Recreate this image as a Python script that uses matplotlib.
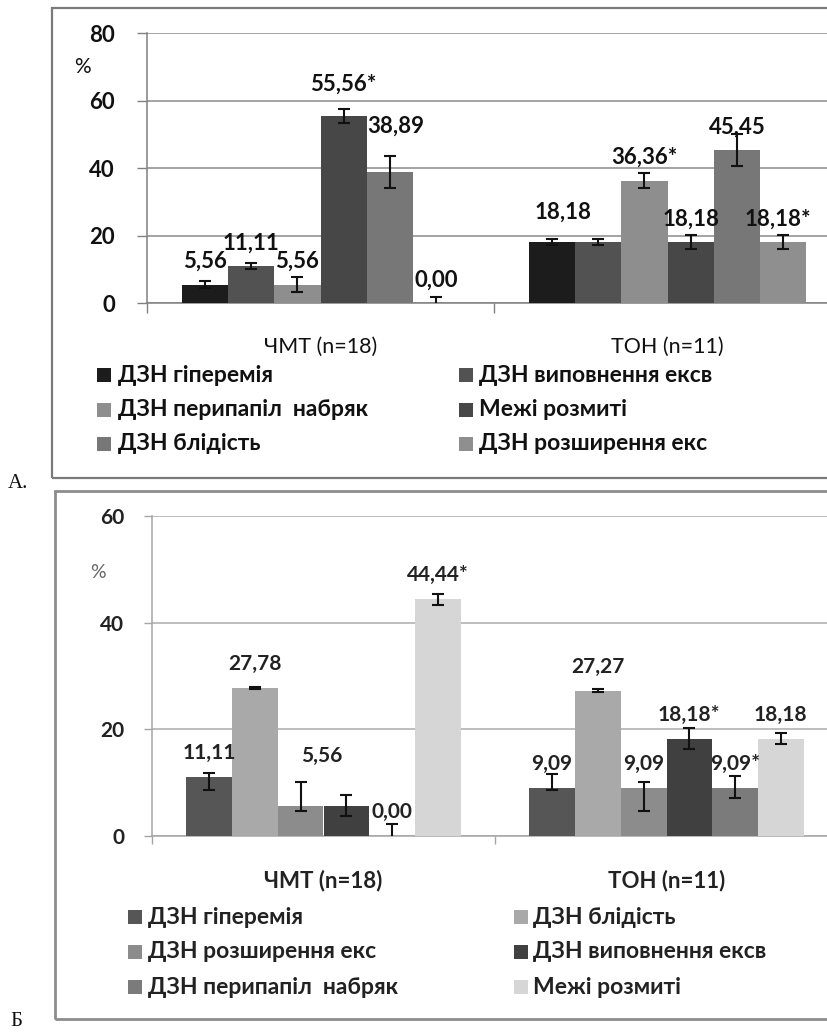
import matplotlib
matplotlib.use("Agg")
import matplotlib.pyplot as plt
import matplotlib.transforms as mtransforms
from matplotlib.patches import Rectangle
import numpy as np

# ---------------- data ----------------
categories = ["ЧМТ (n=18)", "ТОН (n=11)"]

# Panel A
a_series = ["ДЗН гіперемія", "ДЗН виповнення ексв", "ДЗН перипапіл  набряк",
            "Межі розмиті", "ДЗН блідість", "ДЗН розширення екс"]
a_values = [[5.56, 11.11, 5.56, 55.56, 38.89, 0.00],
            [18.18, 18.18, 36.36, 18.18, 45.45, 18.18]]
a_err = [[1.1, 0.8, 2.2, 2.1, 4.7, 2.0],
         [1.0, 1.0, 2.2, 2.1, 4.8, 2.1]]
a_stars = [["", "", "", "*", "", ""],
           ["", "", "*", "", "", "*"]]
a_show = [[1, 1, 1, 1, 1, 1],
          [1, 0, 1, 1, 1, 1]]
a_colors = ["#1c1c1c", "#525252", "#8e8e8e", "#474747", "#777777", "#8f8f8f"]

# Panel Б
b_series = ["ДЗН гіперемія", "ДЗН блідість", "ДЗН розширення екс",
            "ДЗН виповнення ексв", "ДЗН перипапіл  набряк", "Межі розмиті"]
b_values = [[11.11, 27.78, 5.56, 5.56, 0.00, 44.44],
            [9.09, 27.27, 9.09, 18.18, 9.09, 18.18]]
b_err_lo = [[2.5, 0.2, 0.8, 1.75, 2.2, 1.05],
            [0.45, 0.2, 4.4, 1.9, 2.05, 0.9]]
b_err_hi = [[0.75, 0.2, 4.5, 2.1, 2.2, 0.95],
            [2.5, 0.2, 0.95, 2.05, 2.2, 1.1]]
b_stars = [["", "", "", "", "", "*"],
           ["", "", "", "*", "*", ""]]
b_show = [[1, 1, 1, 0, 1, 1],
          [1, 1, 1, 1, 1, 1]]
b_colors = ["#565656", "#a9a9a9", "#8c8c8c", "#404040", "#7b7b7b", "#d6d6d6"]

a_yticks = [0, 20, 40, 60, 80]
b_yticks = [0, 20, 40, 60]

# ---------------- figure ----------------
W, H = 827, 1032
fig = plt.figure(figsize=(W / 100, H / 100), dpi=100)
FONT = ["Lato", "DejaVu Sans"]
plt.rcParams["font.family"] = FONT


def fx(px):
    return px / W


def fy(py):
    return 1 - py / H


def fmt(v, s):
    return f"{v:.2f}".replace(".", ",") + s


def make_axes(left, right, top, bottom):
    return fig.add_axes([fx(left), fy(bottom), (right - left) / W, (bottom - top) / H])


def draw_panel(ax, values, err_lo, err_hi, colors, stars, show, yticks, ymax,
               grid_color, spine_color, tick_len, tick_pad, tick_fs, tick_color,
               lab_fs, lab_weight, lab_color, lab_dy, nudges):
    n = len(colors)
    w = 1.0 / (n + 1.5)
    x0 = np.arange(len(categories))
    handles = []
    for j in range(n):
        xs = x0 + 0.75 * w + (j + 0.5) * w
        vals = [values[i][j] for i in range(len(categories))]
        lo = [err_lo[i][j] for i in range(len(categories))]
        hi = [err_hi[i][j] for i in range(len(categories))]
        h = ax.bar(xs, vals, width=w, color=colors[j], edgecolor="none", zorder=3)
        handles.append(h)
        ax.errorbar(xs, vals, yerr=[lo, hi], fmt="none", ecolor="#111111",
                    elinewidth=1.5, capsize=4.2, capthick=1.5, zorder=4)
        for i in range(len(categories)):
            if not show[i][j]:
                continue
            dx, dy = nudges.get((i, j), (0, 0))
            ax.annotate(fmt(vals[i], stars[i][j]), xy=(xs[i], vals[i]),
                        xytext=(dx, lab_dy + dy), textcoords="offset pixels",
                        ha="center", va="center", fontsize=lab_fs,
                        fontweight=lab_weight, color=lab_color, zorder=5,
                        annotation_clip=False)
    ax.set_xlim(0, len(categories))
    ax.set_ylim(0, ymax)
    ax.set_yticks(yticks)
    ax.set_yticklabels([str(t) for t in yticks], fontsize=tick_fs,
                       fontweight="bold", color=tick_color)
    ax.tick_params(axis="y", length=tick_len, color=spine_color, pad=tick_pad, width=1)
    ax.set_xticks(np.arange(len(categories) + 1))
    ax.set_xticklabels([])
    ax.tick_params(axis="x", length=tick_len, color=spine_color, width=1)
    ax.yaxis.grid(True, color=grid_color, linewidth=1.1, zorder=0)
    ax.set_axisbelow(True)
    for s in ["top", "right"]:
        ax.spines[s].set_visible(False)
    for s in ["left", "bottom"]:
        ax.spines[s].set_color(spine_color)
        ax.spines[s].set_linewidth(1.1)
    ax.patch.set_alpha(0)
    return handles


# ---------- Panel A ----------
fig.patches.append(Rectangle((fx(52), fy(478)), (W + 10 - 52) / W, (478 - 8) / H,
                             transform=fig.transFigure, fill=False,
                             edgecolor="#7a7a7a", linewidth=1.6))
axA = make_axes(147, 147 + 2 * 347, 33.3, 303.3)
hA = draw_panel(axA, a_values, a_err, a_err, a_colors, a_stars, a_show, a_yticks, 80,
                "#8a8a8a", "#808080", 7, 16, 16, "#111111",
                16, "bold", "#111111", 23,
                {(0, 3): (0, 9), (0, 4): (6, 23), (1, 0): (11, 7), (1, 5): (-5, 0)})
trA = mtransforms.blended_transform_factory(axA.transData, fig.transFigure)
for i, c in enumerate(categories):
    axA.text(i + 0.5, fy(347), c, transform=trA, ha="center", va="center",
             fontsize=15.5, color="#111111")
fig.text(fx(82), fy(67), "%", ha="center", va="center", fontsize=15, color="#111111")

# legend A (row-wise order, as in the original)
a_rows = [(0, 1), (2, 3), (4, 5)]
for r, pair in enumerate(a_rows):
    yc = [375, 410, 444][r]
    for c, j in enumerate(pair):
        mx = [97, 459][c]
        tx = [118, 479][c]
        fig.patches.append(Rectangle((fx(mx), fy(yc + 7)), 14 / W, 14 / H,
                                     transform=fig.transFigure,
                                     facecolor=a_colors[j], edgecolor="none"))
        fig.text(fx(tx), fy(yc), a_series[j], ha="left", va="center",
                 fontsize=16.5, fontweight="bold", color="#111111")

fig.text(fx(8), fy(484), "А.", ha="left", va="center", fontsize=15,
         family=["Liberation Serif", "DejaVu Serif"], color="#111111")

# ---------- Panel Б ----------
fig.patches.append(Rectangle((fx(55), fy(1019)), (W + 10 - 55) / W, (1019 - 491) / H,
                             transform=fig.transFigure, fill=False,
                             edgecolor="#8c8c8c", linewidth=2.0))
axB = make_axes(152, 152 + 2 * 343, 516, 836)
hB = draw_panel(axB, b_values, b_err_lo, b_err_hi, b_colors, b_stars, b_show, b_yticks, 60,
                "#ababab", "#a5a5a5", 6, 14, 15, "#222222",
                15, "bold", "#222222", 24,
                {(0, 2): (21, 26)})
trB = mtransforms.blended_transform_factory(axB.transData, fig.transFigure)
for i, c in enumerate(categories):
    axB.text(i + 0.5, fy(881), c, transform=trB, ha="center", va="center",
             fontsize=16, fontweight="bold", color="#222222")
fig.text(fx(98), fy(573), "%", ha="center", va="center", fontsize=14, color="#666666")

b_rows = [(0, 1), (2, 3), (4, 5)]
for r, pair in enumerate(b_rows):
    yc = [917, 952, 987][r]
    for c, j in enumerate(pair):
        mx = [128, 514][c]
        tx = [148, 533][c]
        fig.patches.append(Rectangle((fx(mx), fy(yc + 7)), 14 / W, 14 / H,
                                     transform=fig.transFigure,
                                     facecolor=b_colors[j], edgecolor="none"))
        fig.text(fx(tx), fy(yc), b_series[j], ha="left", va="center",
                 fontsize=16.5, fontweight="bold", color="#222222")

fig.text(fx(10), fy(1021), "Б", ha="left", va="center", fontsize=15,
         family=["Liberation Serif", "DejaVu Serif"], color="#111111")

fig.savefig("out.png", dpi=100)
